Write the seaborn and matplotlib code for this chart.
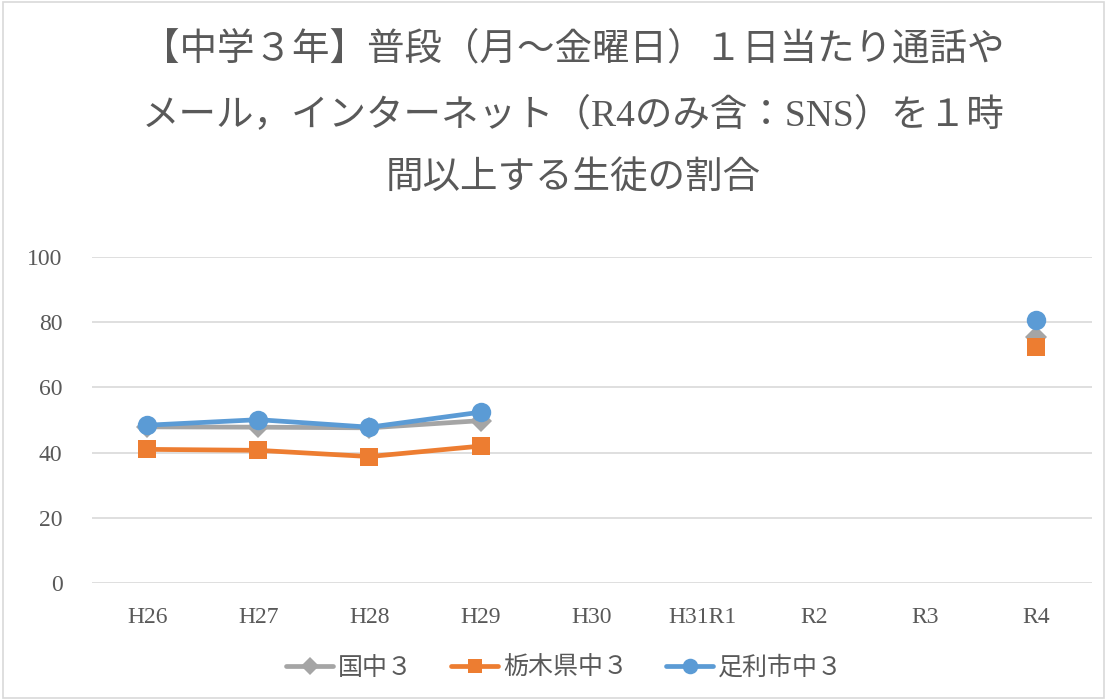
import numpy as np
import pandas as pd
import matplotlib
matplotlib.use("Agg")
import matplotlib.pyplot as plt
from matplotlib.lines import Line2D
from matplotlib.patches import Rectangle
import seaborn as sns

categories = ["H26", "H27", "H28", "H29", "H30", "H31R1", "R2", "R3", "R4"]
national = [47.9, 47.8, 47.6, 49.8, np.nan, np.nan, np.nan, np.nan, 75.5]
tochigi = [41.0, 40.7, 38.8, 42.0, np.nan, np.nan, np.nan, np.nan, 72.3]
ashikaga = [48.4, 50.1, 47.8, 52.4, np.nan, np.nan, np.nan, np.nan, 80.6]
series_names = ["国中３", "栃木県中３", "足利市中３"]
yticks = [0, 20, 40, 60, 80, 100]
title_lines = ["【中学３年】普段（月～金曜日）１日当たり通話や",
               "メール，インターネット（R4のみ含：SNS）を１時",
               "間以上する生徒の割合"]

colors = ["#A5A5A5", "#ED7D31", "#5B9BD5"]
markers = ["D", "s", "o"]
msizes = [11, 13, 14]

sns.set_theme(style="white")
fam = ["Liberation Serif", "Noto Sans CJK JP", "DejaVu Sans"]
plt.rcParams["font.family"] = fam
txtc = "#595959"

fig = plt.figure(figsize=(11.07, 7.0), dpi=100)
ax = fig.add_axes([0.0827, 0.167, 0.9037, 0.466])

x = np.arange(len(categories))
for vals, name, c, m, ms in zip([national, tochigi, ashikaga], series_names, colors, markers, msizes):
    v = np.array(vals, dtype=float)
    ok = ~np.isnan(v)
    runs = []
    cur = []
    for i in range(len(v)):
        if ok[i]:
            cur.append(i)
        else:
            if cur:
                runs.append(cur)
            cur = []
    if cur:
        runs.append(cur)
    for r in runs:
        df = pd.DataFrame({"x": x[r], "y": v[r]})
        lw = 3.4 if len(r) > 1 else 0
        sns.lineplot(data=df, x="x", y="y", ax=ax, color=c, linewidth=lw,
                     marker=m, markersize=ms, markeredgewidth=0, legend=False)

ax.set_xlim(-0.5, len(categories) - 0.5)
ax.set_ylim(0, 100)
ax.set_yticks(yticks)
ax.set_yticklabels([str(t) for t in yticks], fontsize=17, color=txtc, family=fam)
ax.set_xticks(x)
ax.set_xticklabels(categories, fontsize=17, color=txtc, family=fam)
ax.tick_params(axis="y", length=0, pad=21)
ax.tick_params(axis="x", length=0, pad=17)
ax.grid(axis="y", color="#D9D9D9", linewidth=1.2)
ax.set_axisbelow(True)
for s in ax.spines.values():
    s.set_visible(False)
ax.set_xlabel("")
ax.set_ylabel("")

ys = [1 - 50 / 700, 1 - 115 / 700, 1 - 178 / 700]
for t, yy in zip(title_lines, ys):
    fig.text(0.518, yy, t, ha="center", va="center", fontsize=27, color=txtc, family=fam)

handles = [Line2D([0], [0], color=c, lw=3.4, marker=m, markersize=ms * 0.8, markeredgewidth=0)
           for c, m, ms in zip(colors, markers, msizes)]
leg = fig.legend(handles, series_names, loc="center", bbox_to_anchor=(0.51, 1 - 668 / 700),
                 ncol=3, frameon=False, handlelength=1.9, columnspacing=1.5,
                 handletextpad=0.2, prop={"family": fam, "size": 18})
for t in leg.get_texts():
    t.set_color(txtc)

fig.patches.append(Rectangle((0.003, 0.003), 0.994, 0.994, transform=fig.transFigure,
                             fill=False, edgecolor="#D9D9D9", linewidth=1.2))

fig.savefig("out.png", dpi=100)
